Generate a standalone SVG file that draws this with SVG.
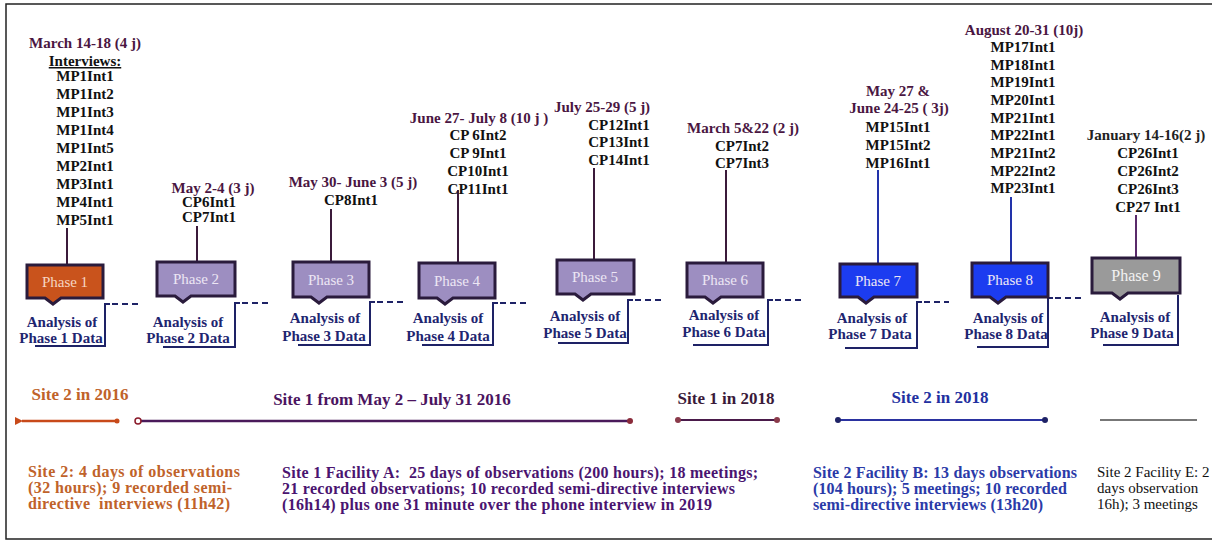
<svg xmlns="http://www.w3.org/2000/svg" width="1213" height="541" viewBox="0 0 1213 541">
<defs>
<style>
text{font-family:"Liberation Serif","DejaVu Serif",serif;}
.b{font-weight:bold;font-size:15px;}
.bt{font-weight:bold;font-size:16px;}
.date{fill:#4a1642;text-anchor:middle;}
.lst{fill:#111;text-anchor:middle;}
.an{fill:#1e2570;text-anchor:middle;}
.ph{font-size:15px;text-anchor:middle;fill:#ece6f4;}
.box{stroke:#2a1b3c;stroke-width:3;stroke-linejoin:miter;}
.lav{fill:#9d8ec1;}
.blu{fill:#1c3cf0;}
.vl{stroke:#3b1a3a;stroke-width:2;fill:none;}
.vb{stroke:#2233aa;stroke-width:2;fill:none;}
.br{stroke:#1e2266;stroke-width:2;fill:none;}
.ds{stroke:#1e2266;stroke-width:2;stroke-dasharray:6,4;fill:none;}
.or{fill:#c0622a;}
.pu{fill:#4a1470;}
.bl{fill:#2a3aa8;}
</style>
<marker id="arrL" markerWidth="10" markerHeight="10" refX="2" refY="5" orient="auto" markerUnits="userSpaceOnUse">
<path d="M9,1 L1,5 L9,9 Z" fill="#c84a1a"/>
</marker>
</defs>
<rect x="0" y="0" width="1213" height="541" fill="#ffffff"/>
<path d="M1212,4 H6 V539 H1212" fill="none" stroke="#222" stroke-width="1.5"/>

<g id="connectors">
<line class="vl" x1="67" y1="228" x2="67" y2="265"/>
<line class="vl" x1="197" y1="226" x2="197" y2="262"/>
<line class="vl" x1="331" y1="209" x2="331" y2="262"/>
<line class="vl" x1="458" y1="190" x2="458" y2="263"/>
<line class="vl" x1="594" y1="168" x2="594" y2="260"/>
<line class="vl" x1="726" y1="170" x2="726" y2="263"/>
<line class="vb" x1="878" y1="170" x2="878" y2="264"/>
<line class="vb" x1="1011" y1="197" x2="1011" y2="263"/>
<line x1="1136" y1="215" x2="1136" y2="258" stroke="#5a2a6a" stroke-width="2"/>
<path class="br" d="M35,346 H105 V304 H110"/>
<line class="ds" x1="112" y1="304" x2="140" y2="304"/>
<path class="br" d="M163,347 H235 V303 H240"/>
<line class="ds" x1="242" y1="303" x2="268" y2="303"/>
<path class="br" d="M298,345 H370 V302 H375"/>
<line class="ds" x1="377" y1="302" x2="404" y2="302"/>
<path class="br" d="M422,345 H493 V303 H498"/>
<line class="ds" x1="500" y1="303" x2="528" y2="303"/>
<path class="br" d="M558,343 H628 V300 H633"/>
<line class="ds" x1="635" y1="300" x2="664" y2="300"/>
<path class="br" d="M693,345 H768 V300 H773"/>
<line class="ds" x1="775" y1="300" x2="801" y2="300"/>
<path class="br" d="M845,348 H917 V302 H922"/>
<line class="ds" x1="924" y1="302" x2="949" y2="302"/>
<path class="br" d="M977,347 H1048 V298 H1053"/>
<line class="ds" x1="1055" y1="298" x2="1083" y2="298"/>
<path class="br" d="M1103,345 H1178 V295"/>
<line x1="117" y1="421" x2="22" y2="421" stroke="#c84a1a" stroke-width="2.5" marker-end="url(#arrL)"/>
<circle cx="117" cy="421" r="2.5" fill="#c84a1a"/>
<line x1="140" y1="421" x2="630" y2="421" stroke="#4a1a5a" stroke-width="2.5"/>
<circle cx="138" cy="421" r="3" fill="#fff" stroke="#8a1a2a" stroke-width="1.5"/>
<circle cx="630" cy="421" r="3" fill="#8a2a3a"/>
<line x1="678" y1="420" x2="777" y2="420" stroke="#4a1a4a" stroke-width="2"/>
<circle cx="678" cy="420" r="3" fill="#8a3a4a"/>
<circle cx="777" cy="420" r="3" fill="#8a3a4a"/>
<line x1="838" y1="420" x2="1045" y2="420" stroke="#2a32a0" stroke-width="2"/>
<circle cx="838" cy="420" r="3" fill="#1e2266"/>
<circle cx="1045" cy="420" r="3" fill="#1e2266"/>
<line x1="1100" y1="420" x2="1197" y2="420" stroke="#777" stroke-width="2"/>
</g>

<g id="phase1">
<text class="b date" x="85" y="48">March 14-18 (4 j)</text>
<text class="b lst" x="85" y="66" text-decoration="underline">Interviews:</text>
<text class="b lst" x="85" y="81">MP1Int1</text>
<text class="b lst" x="85" y="99">MP1Int2</text>
<text class="b lst" x="85" y="117">MP1Int3</text>
<text class="b lst" x="85" y="135">MP1Int4</text>
<text class="b lst" x="85" y="153">MP1Int5</text>
<text class="b lst" x="85" y="171">MP2Int1</text>
<text class="b lst" x="85" y="189">MP3Int1</text>
<text class="b lst" x="85" y="207">MP4Int1</text>
<text class="b lst" x="85" y="225">MP5Int1</text>
<path class="box" fill="#c9531c" d="M27,265 H103 V298 H61 L53,304 L45,298 H27 Z"/>
<text class="ph" x="65" y="287" style="fill:#f6d6c2">Phase 1</text>
<text class="b an" x="62" y="327">Analysis of</text>
<text class="b an" x="61" y="343">Phase 1 Data</text>
</g>

<g id="phase2">
<text class="b date" x="213" y="193">May 2-4 (3 j)</text>
<text class="b lst" x="209" y="207">CP6Int1</text>
<text class="b lst" x="209" y="222">CP7Int1</text>
<path class="box lav" d="M157,262 H235 V296 H191 L183,302 L175,296 H157 Z"/>
<text class="ph" x="196" y="284">Phase 2</text>
<text class="b an" x="188" y="327">Analysis of</text>
<text class="b an" x="188" y="343">Phase 2 Data</text>
</g>

<g id="phase3">
<text class="b date" x="353" y="187">May 30-  June 3 (5 j)</text>
<text class="b lst" x="351" y="205">CP8Int1</text>
<path class="box lav" d="M293,262 H369 V297 H327 L319,303 L311,297 H293 Z"/>
<text class="ph" x="331" y="285">Phase 3</text>
<text class="b an" x="325" y="323">Analysis of</text>
<text class="b an" x="324" y="341">Phase 3 Data</text>
</g>

<g id="phase4">
<text class="b date" x="479" y="123">June 27-  July  8 (10 j )</text>
<text class="b lst" x="478" y="140">CP 6Int2</text>
<text class="b lst" x="478" y="158">CP 9Int1</text>
<text class="b lst" x="478" y="176">CP10Int1</text>
<text class="b lst" x="478" y="194">CP11Int1</text>
<path class="box lav" d="M419,263 H495 V298 H453 L445,304 L437,298 H419 Z"/>
<text class="ph" x="457" y="286">Phase 4</text>
<text class="b an" x="448" y="323">Analysis of</text>
<text class="b an" x="448" y="341">Phase 4 Data</text>
</g>

<g id="phase5">
<text class="b date" x="602" y="112">July 25-29 (5 j)</text>
<text class="b lst" x="619" y="130">CP12Int1</text>
<text class="b lst" x="619" y="147">CP13Int1</text>
<text class="b lst" x="619" y="165">CP14Int1</text>
<path class="box lav" d="M557,260 H634 V294 H591 L583,300 L575,294 H557 Z"/>
<text class="ph" x="595" y="282">Phase 5</text>
<text class="b an" x="585" y="321">Analysis of</text>
<text class="b an" x="585" y="338">Phase 5 Data</text>
</g>

<g id="phase6">
<text class="b date" x="743" y="133">March 5&amp;22 (2 j)</text>
<text class="b lst" x="742" y="151">CP7Int2</text>
<text class="b lst" x="742" y="168">CP7Int3</text>
<path class="box lav" d="M687,263 H763 V297 H721 L713,303 L705,297 H687 Z"/>
<text class="ph" x="725" y="285">Phase 6</text>
<text class="b an" x="724" y="320">Analysis of</text>
<text class="b an" x="724" y="337">Phase 6 Data</text>
</g>

<g id="phase7">
<text class="b date" x="898" y="96">May 27 &amp;</text>
<text class="b date" x="899" y="113">June 24-25 ( 3j)</text>
<text class="b lst" x="898" y="132">MP15Int1</text>
<text class="b lst" x="898" y="150">MP15Int2</text>
<text class="b lst" x="898" y="168">MP16Int1</text>
<path class="box blu" d="M840,264 H917 V297 H874 L866,303 L858,297 H840 Z"/>
<text class="ph" x="878" y="286">Phase 7</text>
<text class="b an" x="872" y="323">Analysis of</text>
<text class="b an" x="870" y="339">Phase 7 Data</text>
</g>

<g id="phase8">
<text class="b date" x="1024" y="35">August 20-31 (10j)</text>
<text class="b lst" x="1023" y="52">MP17Int1</text>
<text class="b lst" x="1023" y="70">MP18Int1</text>
<text class="b lst" x="1023" y="87">MP19Int1</text>
<text class="b lst" x="1023" y="105">MP20Int1</text>
<text class="b lst" x="1023" y="123">MP21Int1</text>
<text class="b lst" x="1023" y="140">MP22Int1</text>
<text class="b lst" x="1023" y="158">MP21Int2</text>
<text class="b lst" x="1023" y="176">MP22Int2</text>
<text class="b lst" x="1023" y="193">MP23Int1</text>
<path class="box blu" d="M972,263 H1048 V297 H1006 L998,303 L990,297 H972 Z"/>
<text class="ph" x="1010" y="285">Phase 8</text>
<text class="b an" x="1008" y="323">Analysis of</text>
<text class="b an" x="1006" y="339">Phase 8 Data</text>
</g>

<g id="phase9">
<text class="b lst" x="1146" y="140" style="fill:#222">January 14-16(2 j)</text>
<text class="b lst" x="1148" y="158">CP26Int1</text>
<text class="b lst" x="1148" y="176">CP26Int2</text>
<text class="b lst" x="1148" y="194">CP26Int3</text>
<text class="b lst" x="1148" y="212">CP27 Int1</text>
<path class="box" fill="#9a9a9a" d="M1092,258 H1180 V293 H1128 L1120,299 L1112,293 H1092 Z"/>
<text class="ph" x="1136" y="281" style="font-size:16px;fill:#f2f2f2">Phase 9</text>
<text class="b an" x="1135" y="322">Analysis of</text>
<text class="b an" x="1132" y="338">Phase 9 Data</text>
</g>

<g id="site2-2016">
<text class="b or" x="80" y="400" text-anchor="middle" style="font-size:17px">Site 2 in 2016</text>
<text class="bt or" x="28" y="477" textLength="212" lengthAdjust="spacing">Site 2: 4 days of observations</text>
<text class="bt or" x="28" y="493" textLength="204" lengthAdjust="spacing">(32 hours); 9 recorded semi-</text>
<text class="bt or" x="28" y="509" textLength="202" lengthAdjust="spacing" xml:space="preserve">directive  interviews (11h42)</text>
</g>

<g id="site1-2016">
<text class="b" x="392" y="405" text-anchor="middle" style="font-size:17px;fill:#4b1460">Site 1 from May 2 – July 31 2016</text>
<text class="bt pu" x="282" y="478" textLength="476" lengthAdjust="spacing" xml:space="preserve">Site 1 Facility A:  25 days of observations (200 hours); 18 meetings;</text>
<text class="bt pu" x="282" y="494" textLength="453" lengthAdjust="spacing">21 recorded observations; 10 recorded semi-directive interviews</text>
<text class="bt pu" x="282" y="510" textLength="430" lengthAdjust="spacing">(16h14) plus one 31 minute over the phone interview in 2019</text>
</g>

<g id="site1-2018">
<text class="b" x="726" y="404" text-anchor="middle" style="font-size:17px;fill:#3a1a3a">Site 1 in 2018</text>
</g>

<g id="site2-2018">
<text class="b" x="940" y="403" text-anchor="middle" style="font-size:17px;fill:#2230a0">Site 2 in 2018</text>
<text class="bt bl" x="813" y="478" textLength="264" lengthAdjust="spacing">Site 2 Facility B: 13 days observations</text>
<text class="bt bl" x="813" y="494" textLength="254" lengthAdjust="spacing">(104 hours); 5 meetings; 10 recorded</text>
<text class="bt bl" x="813" y="510" textLength="230" lengthAdjust="spacing">semi-directive interviews (13h20)</text>
</g>

<g id="site2-facilityE">
<text x="1097" y="477" style="font-size:15px;fill:#111">Site 2 Facility E: 2</text>
<text x="1097" y="493" style="font-size:15px;fill:#111">days observation</text>
<text x="1097" y="509" style="font-size:15px;fill:#111">16h); 3 meetings</text>
</g>
</svg>
